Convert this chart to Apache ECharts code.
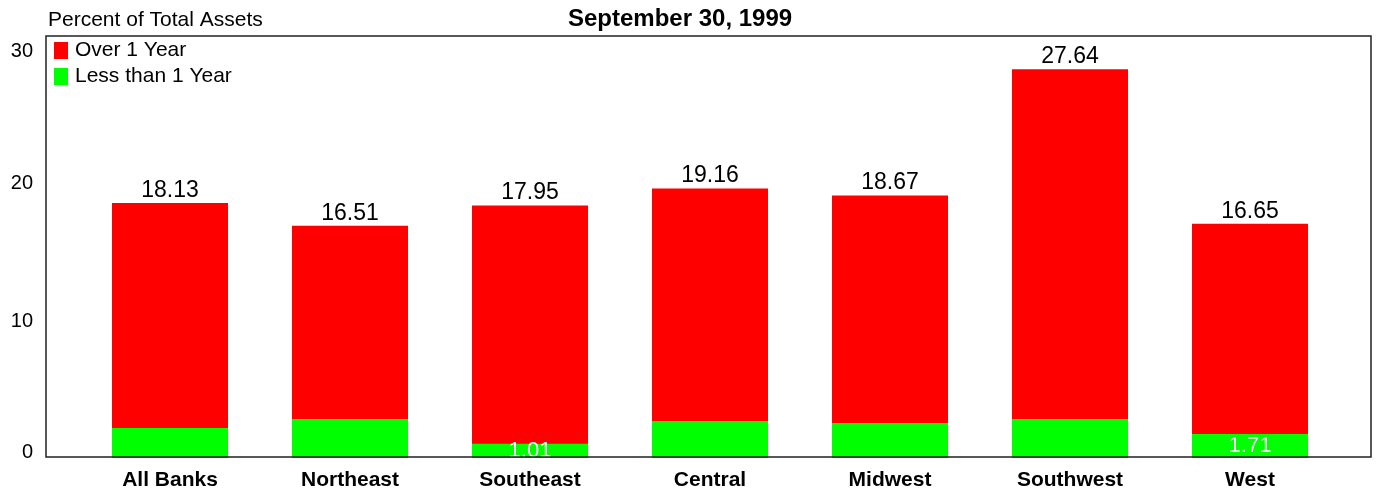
<!DOCTYPE html>
<html>
<head>
<meta charset="utf-8">
<script src="https://cdn.jsdelivr.net/npm/echarts@6/dist/echarts.min.js"></script>
<style>html,body{margin:0;padding:0;background:#fff}#c{width:1379px;height:491px}</style>
</head>
<body>
<div id="c"></div>
<script>
const categories = ['All Banks', 'Northeast', 'Southeast', 'Central', 'Midwest', 'Southwest', 'West'];
const overOneYear = [18.13, 16.51, 17.95, 19.16, 18.67, 27.64, 16.65];
const lessThanOneYear = [2.13, 2.77, 1.01, 2.63, 2.48, 2.77, 1.71];
const labeledLess = ['Southeast', 'West'];
const yTicks = [0, 10, 20, 30];

const FONT = '"Liberation Sans", Arial, sans-serif';
const tickStyle = (pad) => ({ fontFamily: FONT, fontSize: 20, color: '#000', padding: pad });
const chart = echarts.init(document.getElementById('c'));
chart.setOption({
  animation: false,
  textStyle: { fontFamily: FONT },
  title: [
    { text: 'September 30, 1999', left: 563, top: 2,
      textStyle: { fontFamily: FONT, fontSize: 24, fontWeight: 'bold', color: '#000' } },
    { text: 'Percent of Total Assets', left: 43, top: 5,
      textStyle: { fontFamily: FONT, fontSize: 21, fontWeight: 'normal', color: '#000' } }
  ],
  legend: {
    orient: 'vertical', left: 49, top: 35, itemWidth: 14, itemHeight: 17, itemGap: 5,
    icon: 'rect', selectedMode: false,
    textStyle: { fontFamily: FONT, fontSize: 21, color: '#000', padding: [0, 0, 6, 2] },
    data: ['Over 1 Year', 'Less than 1 Year']
  },
  grid: { left: 80, right: 39, top: 36, bottom: 33 },
  graphic: [{
    type: 'rect', z: 100, silent: true,
    shape: { x: 46, y: 36, width: 1325, height: 421 },
    style: { fill: 'none', stroke: '#222', lineWidth: 1.5 }
  }],
  xAxis: {
    type: 'category', data: categories,
    axisLine: { show: false }, axisTick: { show: false },
    axisLabel: { fontFamily: FONT, fontSize: 21, fontWeight: 'bold', color: '#000', margin: 12 }
  },
  yAxis: {
    type: 'value', min: 0, max: 30, interval: 10,
    axisLine: { show: false }, axisTick: { show: false }, splitLine: { show: false },
    axisLabel: { fontFamily: FONT, fontSize: 20, color: '#000', margin: 47,
      formatter: v => yTicks.includes(v) ? '{t' + v + '|' + v + '}' : '',
      rich: {
        t30: tickStyle([30, 0, 0, 0]),
        t20: tickStyle([14, 0, 0, 0]),
        t10: tickStyle([8, 0, 0, 0]),
        t0: tickStyle([0, 0, 12, 0])
      } }
  },
  series: [
    {
      name: 'Over 1 Year', type: 'bar', data: overOneYear, barWidth: 116, barGap: '-100%',
      itemStyle: { color: '#ff0000' }, z: 2,
      label: { show: true, position: 'top', distance: 1, fontFamily: FONT, fontSize: 23, color: '#000',
        formatter: p => p.value.toFixed(2) }
    },
    {
      name: 'Less than 1 Year', type: 'bar', data: lessThanOneYear, barWidth: 116, barGap: '-100%',
      itemStyle: { color: '#00ff00' }, z: 3,
      label: { show: true, position: 'inside', fontFamily: FONT, fontSize: 22, color: '#fff',
        formatter: p => labeledLess.includes(p.name) ? p.value.toFixed(2) : '' }
    }
  ]
});
</script>
</body>
</html>
